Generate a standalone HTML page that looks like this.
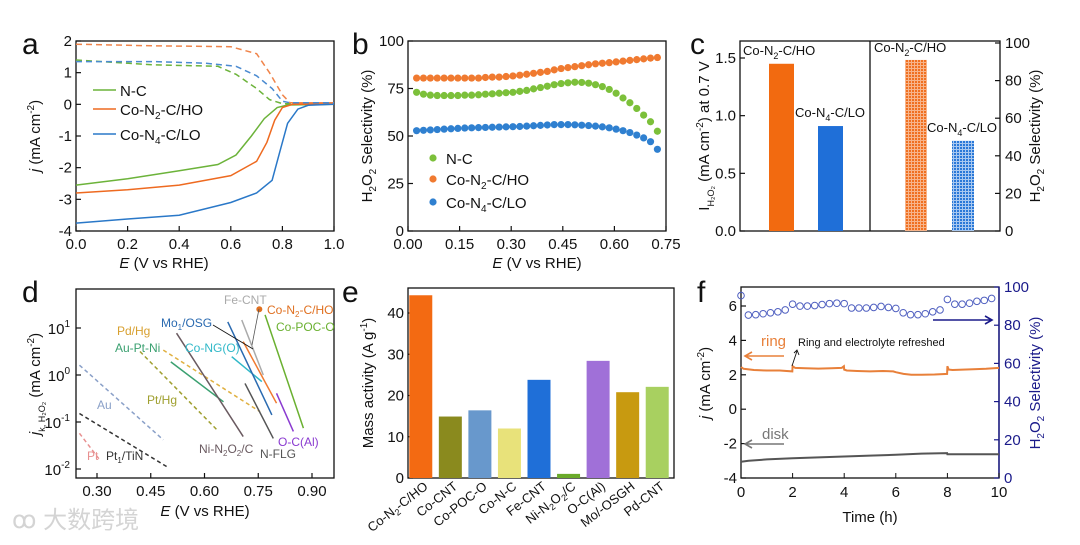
<!DOCTYPE html>
<html><head><meta charset="utf-8">
<style>
html,body{margin:0;padding:0;background:#fff;}
svg{display:block;font-family:"Liberation Sans",Arial,sans-serif;}
</style></head>
<body>
<svg id="fig" width="1080" height="545" viewBox="0 0 1080 545" xmlns="http://www.w3.org/2000/svg">
<defs>
<pattern id="hatchO" width="3" height="3" patternUnits="userSpaceOnUse"><rect width="3" height="3" fill="#f7b48a"/><rect width="2" height="2" fill="#f07020"/></pattern>
<pattern id="hatchB" width="3" height="3" patternUnits="userSpaceOnUse"><rect width="3" height="3" fill="#a8c8f0"/><rect width="2" height="2" fill="#2a78d8"/></pattern>
</defs>
<text x="12" y="528" font-size="24" fill="#d4d4d4" font-family="'Liberation Sans','Noto Sans CJK SC',sans-serif">ꝏ 大数跨境</text>
</svg>
<script>
// ---------- Panel a data ----------
const aE_NC=[0,0.2,0.4,0.55,0.62,0.68,0.73,0.78,0.82,1.0];
const aJ_NC=[-2.55,-2.35,-2.1,-1.9,-1.6,-1.0,-0.45,-0.1,-0.02,0];
const aE_N2=[0,0.2,0.4,0.6,0.7,0.74,0.77,0.8,0.84,1.0];
const aJ_N2=[-2.8,-2.7,-2.55,-2.25,-1.8,-1.2,-0.5,-0.1,0,0];
const aE_N4=[0,0.2,0.4,0.6,0.7,0.76,0.79,0.82,0.86,0.9,1.0];
const aJ_N4=[-3.75,-3.62,-3.5,-3.1,-2.8,-2.4,-1.5,-0.6,-0.15,-0.03,0];
const aE_rNC=[0,0.3,0.55,0.62,0.7,0.75,0.8,1.0];
const aJ_rNC=[1.4,1.25,1.2,0.95,0.5,0.15,0.02,0.02];
const aE_rN2=[0,0.3,0.6,0.7,0.75,0.8,0.83,1.0];
const aJ_rN2=[1.9,1.85,1.82,1.6,1.0,0.3,0.05,0.05];
const aE_rN4=[0,0.3,0.5,0.62,0.7,0.76,0.8,0.83,1.0];
const aJ_rN4=[1.35,1.35,1.3,1.2,0.9,0.5,0.1,0.05,0.05];
const aXT=[0,0.2,0.4,0.6,0.8,1.0];
const aXL=["0.0","0.2","0.4","0.6","0.8","1.0"];
const aYT=[-4,-3,-2,-1,0,1,2];
// ---------- Panel b data ----------
const bE=[0.025,0.045,0.065,0.085,0.105,0.125,0.145,0.165,0.185,0.205,0.225,0.245,0.265,0.285,0.305,0.325,0.345,0.365,0.385,0.405,0.425,0.445,0.465,0.485,0.505,0.525,0.545,0.565,0.585,0.605,0.625,0.645,0.665,0.685,0.705,0.725];
const bOrange=[80.5,80.5,80.5,80.5,80.5,80.5,80.5,80.5,80.5,80.5,80.8,81,81,81.3,81.6,82,82.5,83,83.5,84,84.8,85.5,86,86.5,87,87.5,88,88.3,88.6,89,89.4,89.8,90.2,90.6,91,91.3];
const bGreen=[73,72,71.5,71.3,71.3,71.3,71.3,71.5,71.5,71.7,72,72.2,72.5,72.8,73,73.5,74,74.8,75.5,76.2,77,77.6,78,78.3,78.2,77.8,77,76,74.5,72.5,70,67.5,64.5,61,57.5,52.5];
const bBlue=[52.8,53,53.2,53.4,53.6,53.8,54,54.2,54.3,54.4,54.5,54.6,54.7,54.8,54.9,55,55.2,55.4,55.6,55.8,56,56,56,55.9,55.7,55.5,55.2,54.8,54.3,53.6,52.8,51.8,50.5,49,47,43];
const bXT=[0,0.15,0.30,0.45,0.60,0.75];
const bXL=["0.00","0.15","0.30","0.45","0.60","0.75"];
const bYT=[0,25,50,75,100];
// ---------- Panel c data ----------
const cCurrent=[1.45,0.91];
const cSelect=[91,48];
const cLYT=[0,0.5,1.0,1.5];
const cLYL=["0.0","0.5","1.0","1.5"];
const cRYT=[0,20,40,60,80,100];
// ---------- Panel d data ----------
const dNames=["Pt","Pt1/TiN","Au","Pt/Hg","Pd/Hg","Au-Pt-Ni","Ni-N2O2/C","Co-NG(O)","Mo1/OSG","N-FLG","Fe-CNT","Co-N2-C/HO","O-C(Al)","Co-POC-O"];
const dE0=[0.251,0.251,0.251,0.420,0.485,0.506,0.522,0.676,0.665,0.713,0.704,0.708,0.801,0.769];
const dE1=[0.308,0.499,0.485,0.639,0.755,0.653,0.708,0.760,0.788,0.792,0.764,0.801,0.848,0.876];
const dLog0=[-1.24,-0.82,0.21,0.50,0.53,0.28,0.89,0.39,1.13,-0.18,1.17,0.71,-0.39,1.28];
const dLog1=[-1.81,-1.97,-1.38,-1.2,-0.78,-0.57,-1.31,-0.14,-0.85,-1.35,0.0,-0.6,-1.2,-1.13];
const dStarE=[0.753];
const dStarLog=[1.40];
const dXT=[0.30,0.45,0.60,0.75,0.90];
const dXL=["0.30","0.45","0.60","0.75","0.90"];
const dYT=[-2,-1,0,1];
// ---------- Panel e data ----------
const eCats=["Co-N2-C/HO","Co-CNT","Co-POC-O","Co-N-C","Fe-CNT","Ni-N2O2/C","O-C(Al)","Mo/-OSGH","Pd-CNT"];
const eVals=[44.3,14.9,16.4,12.0,23.8,1.0,28.4,20.8,22.1];
const eYT=[0,10,20,30,40];
// ---------- Panel f data ----------
const fRingT=[0,0.1,0.5,1,1.5,1.99,2.0,2.1,2.5,3,3.5,3.9,3.99,4.0,4.1,4.5,5,5.5,5.9,6.0,6.3,6.6,7,7.5,7.99,8.0,8.05,8.2,8.6,9,9.5,10];
const fRingJ=[2.45,2.35,2.28,2.25,2.25,2.2,2.5,2.4,2.38,2.36,2.38,2.4,2.5,2.3,2.25,2.22,2.2,2.22,2.2,2.15,2.05,2.0,2.0,2.02,2.05,2.5,2.3,2.28,2.3,2.32,2.35,2.4];
const fDiskT=[0,0.3,1,2,3,4,5,6,7,7.99,8.0,9,10];
const fDiskJ=[-3.05,-3.0,-2.92,-2.85,-2.8,-2.75,-2.7,-2.65,-2.58,-2.55,-2.62,-2.62,-2.62];
const fSelT=[0,0.286,0.571,0.857,1.143,1.429,1.714,2,2.286,2.571,2.857,3.143,3.429,3.714,4,4.286,4.571,4.857,5.143,5.429,5.714,6,6.286,6.571,6.857,7.143,7.429,7.714,8,8.286,8.571,8.857,9.143,9.429,9.714];
const fSel=[95.5,85.3,85.5,86,86.5,87,88,91,90,90,90.3,90.8,91.3,91.5,91.3,89,89,89,89.3,89.8,89.3,88.8,86.5,85.5,85.5,86,87,88,93.5,91,91,91.5,92.5,93,94];
const fXT=[0,2,4,6,8,10];
const fLYT=[-4,-2,0,2,4,6];
const fRYT=[0,20,40,60,80,100];

const NS="http://www.w3.org/2000/svg";
const svg=document.getElementById('fig');
function mk(tag,attrs,name,parent){
  const el=document.createElementNS(NS,tag);
  for(const k in attrs) el.setAttribute(k,attrs[k]);
  
  
  (parent||svg).appendChild(el);
  return el;
}
function txt(x,y,s,size,name,extra){
  const a=Object.assign({x:x,y:y,'font-size':size,fill:'#111'},extra||{});
  const t=mk('text',a,name);
  t.innerHTML=s;
  return t;
}
function lin(d0,d1,p0,p1){return v=>p0+(v-d0)/(d1-d0)*(p1-p0);}
function pathOf(xs,ys,sx,sy){return xs.map((v,i)=>(i?'L':'M')+sx(v).toFixed(1)+' '+sy(ys[i]).toFixed(1)).join(' ');}
function frame(x0,y0,x1,y1,name){mk('rect',{x:x0,y:y0,width:x1-x0,height:y1-y0,fill:'none',stroke:'#111','stroke-width':1.3},name);}
function xticks(ticks,labels,sx,y,name){
  ticks.forEach((t,i)=>{
    mk('line',{x1:sx(t),x2:sx(t),y1:y,y2:y-5,stroke:'#111','stroke-width':1.2},name+'-tick');
    txt(sx(t),y+18,labels[i],15,name+'-label',{'text-anchor':'middle'});
  });
}
function yticks(ticks,labels,sy,x,name,right,color){
  ticks.forEach((t,i)=>{
    mk('line',{x1:x,x2:right?x-5:x+5,y1:sy(t),y2:sy(t),stroke:color||'#111','stroke-width':1.2},name+'-tick');
    txt(right?x+5:x-4,sy(t)+5,labels[i],15,name+'-label',{'text-anchor':right?'start':'end',fill:color||'#111'});
  });
}
function panelLetter(x,y,s){txt(x,y,s,30,'panel-label-'+s);}

// ===== Panel a =====
(function(){
  const sx=lin(0,1,76,334), sy=lin(-4,2,231,41);
  panelLetter(22,54,'a');
  frame(76,41,334,231,'panel-a-frame');
  xticks(aXT,aXL,sx,231,'a-x');
  yticks(aYT,aYT.map(String),sy,76,'a-y');
  const series=[[aE_rNC,aJ_rNC,'#6cb33a','ring-nc'],[aE_rN2,aJ_rN2,'#f0844a','ring-con2'],[aE_rN4,aJ_rN4,'#4a8ad0','ring-con4']];
  series.forEach(s=>mk('path',{d:pathOf(s[0],s[1],sx,sy),fill:'none',stroke:s[2],'stroke-width':1.5,'stroke-dasharray':'6,4'},'curve-'+s[3]));
  const solid=[[aE_NC,aJ_NC,'#6cb33a','disk-nc'],[aE_N2,aJ_N2,'#ee6a20','disk-con2'],[aE_N4,aJ_N4,'#2a78c8','disk-con4']];
  solid.forEach(s=>mk('path',{d:pathOf(s[0],s[1],sx,sy),fill:'none',stroke:s[2],'stroke-width':1.5},'curve-'+s[3]));
  const leg=[['N-C','#6cb33a',91],['Co-N<tspan font-size="10" dy="4">2</tspan><tspan dy="-4">-C/HO</tspan>','#ee6a20',110],['Co-N<tspan font-size="10" dy="4">4</tspan><tspan dy="-4">-C/LO</tspan>','#2a78c8',135]];
  leg.forEach(l=>{mk('line',{x1:93,x2:116,y1:l[2]-1,y2:l[2]-1,stroke:l[1],'stroke-width':1.6},'legend-line');txt(120,l[2]+5,l[0],15,'legend-entry');});
  txt(164,268,'<tspan font-style="italic">E</tspan> (V vs RHE)',15,'a-x-title',{'text-anchor':'middle'});
  txt(0,0,'<tspan font-style="italic">j</tspan> (mA cm<tspan font-size="10" dy="-6">-2</tspan><tspan dy="6">)</tspan>',15,'a-y-title',{transform:'translate(40,136) rotate(-90)','text-anchor':'middle'});
})();

// ===== Panel b =====
(function(){
  const sx=lin(0,0.75,408,666), sy=lin(0,100,231,41);
  panelLetter(352,54,'b');
  frame(408,41,666,231,'panel-b-frame');
  xticks(bXT,bXL,sx,231,'b-x');
  yticks(bYT,bYT.map(String),sy,408,'b-y');
  const ser=[[bOrange,'#f07a30','orange'],[bGreen,'#7cc03a','green'],[bBlue,'#2f80d0','blue']];
  ser.forEach(s=>bE.forEach((e,i)=>mk('circle',{cx:sx(e),cy:sy(s[0][i]),r:3.6,fill:s[1]},'point-'+s[2])));
  const leg=[['N-C','#7cc03a',159],['Co-N<tspan font-size="10" dy="4">2</tspan><tspan dy="-4">-C/HO</tspan>','#f07a30',180],['Co-N<tspan font-size="10" dy="4">4</tspan><tspan dy="-4">-C/LO</tspan>','#2f80d0',203]];
  leg.forEach(l=>{mk('circle',{cx:433,cy:l[2]-1,r:3.6,fill:l[1]},'legend-marker');txt(446,l[2]+5,l[0],15,'legend-entry');});
  txt(537,268,'<tspan font-style="italic">E</tspan> (V vs RHE)',15,'b-x-title',{'text-anchor':'middle'});
  txt(0,0,'H<tspan font-size="10" dy="4">2</tspan><tspan dy="-4">O</tspan><tspan font-size="10" dy="4">2</tspan><tspan dy="-4"> Selectivity (%)</tspan>',15,'b-y-title',{transform:'translate(372,136) rotate(-90)','text-anchor':'middle'});
})();

// ===== Panel c =====
(function(){
  const syL=lin(0,1.5,231,58), syR=lin(0,100,231,43);
  panelLetter(690,54,'c');
  frame(740,41,1000,231,'panel-c-frame');
  mk('line',{x1:870,x2:870,y1:41,y2:231,stroke:'#111','stroke-width':1.3},'panel-divider');
  yticks(cLYT,cLYL,syL,740,'c-left-y');
  yticks(cRYT,cRYT.map(String),syR,1000,'c-right-y',true);
  const lx=[769,818], rx=[905,952];
  const lf=['#f26a10','#1f6fd8'], rf=['url(#hatchO)','url(#hatchB)'];
  cCurrent.forEach((v,i)=>mk('rect',{x:lx[i],y:syL(v),width:25,height:231-syL(v),fill:lf[i]},'bar-current'));
  cSelect.forEach((v,i)=>mk('rect',{x:rx[i],y:syR(v),width:22,height:231-syR(v),fill:rf[i]},'bar-selectivity'));
  const sub2='Co-N<tspan font-size="9" dy="4">2</tspan><tspan dy="-4">-C/HO</tspan>';
  const sub4='Co-N<tspan font-size="9" dy="4">4</tspan><tspan dy="-4">-C/LO</tspan>';
  txt(743,55,sub2,13,'bar-label');
  txt(795,117,sub4,13,'bar-label');
  txt(874,52,sub2,13,'bar-label');
  txt(927,132,sub4,13,'bar-label');
  txt(0,0,'I<tspan font-size="9" dy="5">H₂O₂</tspan><tspan dy="-5"> (mA cm</tspan><tspan font-size="10" dy="-6">-2</tspan><tspan dy="6">) at 0.7 V</tspan>',15,'c-left-y-title',{transform:'translate(709,136) rotate(-90)','text-anchor':'middle'});
  txt(0,0,'H<tspan font-size="10" dy="4">2</tspan><tspan dy="-4">O</tspan><tspan font-size="10" dy="4">2</tspan><tspan dy="-4"> Selectivity (%)</tspan>',15,'c-right-y-title',{transform:'translate(1040,136) rotate(-90)','text-anchor':'middle'});
})();

// ===== Panel d =====
(function(){
  const sx=lin(0.30,0.90,97,312), sy=lin(1,-2,328,469);
  panelLetter(22,302,'d');
  frame(76,289,334,478,'panel-d-frame');
  xticks(dXT,dXL,sx,478,'d-x');
  dYT.forEach(t=>{
    mk('line',{x1:76,x2:81,y1:sy(t),y2:sy(t),stroke:'#111','stroke-width':1.2},'d-y-tick');
    txt(70,sy(t)+6,'10<tspan font-size="10" dy="-7">'+t+'</tspan>',15,'d-y-label',{'text-anchor':'end'});
  });
  const cols=['#e89090','#333','#8aa0c8','#a0a030','#e0b040','#3aa070','#6a5a60','#30b8c8','#2a6ab0','#555','#aaa','#f07a30','#8a3ad0','#6ab030'];
  const dashed=[1,1,1,1,1,0,0,0,0,0,0,0,0,0];
  dNames.forEach((n,i)=>{
    const a={x1:sx(dE0[i]),y1:sy(dLog0[i]),x2:sx(dE1[i]),y2:sy(dLog1[i]),stroke:cols[i],'stroke-width':1.5};
    if(dashed[i]) a['stroke-dasharray']='4,3';
    mk('line',a,'trend-line');
  });
  dStarE.forEach((e,i)=>mk('circle',{cx:sx(e),cy:sy(dStarLog[i]),r:3,fill:'#e07020'},'highlight-marker'));
  mk('line',{x1:253,y1:349,x2:213,y2:325,stroke:'#111','stroke-width':0.8},'annotation-arrow');
  mk('line',{x1:252,y1:345,x2:259,y2:309,stroke:'#555','stroke-width':0.8},'annotation-arrow');
  const labs=[[87,460,'Pt','#e89090'],[106,460,'Pt<tspan font-size="8" dy="3">1</tspan><tspan dy="-3">/TiN</tspan>','#333'],[97,409,'Au','#8aa0c8'],[147,404,'Pt/Hg','#a0a030'],[117,335,'Pd/Hg','#d8a030'],[115,352,'Au-Pt-Ni','#3aa070'],[161,327,'Mo<tspan font-size="8" dy="3">1</tspan><tspan dy="-3">/OSG</tspan>','#2a6ab0'],[185,352,'Co-NG(O)','#30b8c8'],[224,304,'Fe-CNT','#aaa'],[267,314,'Co-N<tspan font-size="8" dy="3">2</tspan><tspan dy="-3">-C/HO</tspan>','#e07020'],[276,331,'Co-POC-O','#6ab030'],[199,453,'Ni-N<tspan font-size="8" dy="3">2</tspan><tspan dy="-3">O</tspan><tspan font-size="8" dy="3">2</tspan><tspan dy="-3">/C</tspan>','#6a5a60'],[260,458,'N-FLG','#555'],[278,446,'O-C(Al)','#8a3ad0']];
  labs.forEach(l=>txt(l[0],l[1],l[2],12,'series-label',{fill:l[3]}));
  txt(205,516,'<tspan font-style="italic">E</tspan> (V vs RHE)',15,'d-x-title',{'text-anchor':'middle'});
  txt(0,0,'<tspan font-style="italic">j</tspan><tspan font-size="9" dy="5">k, H₂O₂</tspan><tspan dy="-5"> (mA cm</tspan><tspan font-size="10" dy="-6">-2</tspan><tspan dy="6">)</tspan>',15,'d-y-title',{transform:'translate(40,384) rotate(-90)','text-anchor':'middle'});
})();

// ===== Panel e =====
(function(){
  const x0=408,x1=674, sy=lin(0,40,478,313);
  const step=(x1-x0)/eCats.length;
  panelLetter(342,302,'e');
  frame(x0,288,x1,478,'panel-e-frame');
  yticks(eYT,eYT.map(String),sy,x0,'e-y');
  const cols=['#f36a12','#8a8a1e','#6898cc','#e8e27a','#1f6fd8','#6aaa2a','#a070d8','#c89a10','#a8d060'];
  eVals.forEach((v,i)=>{
    const cx=x0+step*(i+0.5)-2;
    mk('rect',{x:cx-11.5,y:sy(v),width:23,height:478-sy(v),fill:cols[i]},'bar-'+i);
    txt(0,0,eCats[i].replace(/N2O2/,'N<tspan font-size="9" dy="3">2</tspan><tspan dy="-3">O</tspan><tspan font-size="9" dy="3">2</tspan><tspan dy="-3">').replace(/N2-C/,'N<tspan font-size="9" dy="3">2</tspan><tspan dy="-3">-C</tspan>'),13,'e-x-label',{'text-anchor':'end',transform:'translate('+(cx+8)+',488) rotate(-38)'});
  });
  txt(0,0,'Mass activity (A g<tspan font-size="10" dy="-6">-1</tspan><tspan dy="6">)</tspan>',15,'e-y-title',{transform:'translate(373,383) rotate(-90)','text-anchor':'middle'});
})();

// ===== Panel f =====
(function(){
  const sx=lin(0,10,741,999), sy=lin(-4,6,478,306), syR=lin(0,100,478,287);
  const navy='#1a1a8a';
  panelLetter(697,302,'f');
  frame(741,287,999,478,'panel-f-frame');
  mk('line',{x1:999,x2:999,y1:287,y2:478,stroke:navy,'stroke-width':1.4},'right-axis-line');
  fXT.forEach(t=>{mk('line',{x1:sx(t),x2:sx(t),y1:478,y2:473,stroke:'#111'},'f-x-tick');txt(sx(t),497,String(t),15,'f-x-label',{'text-anchor':'middle'});});
  yticks(fLYT,fLYT.map(String),sy,741,'f-left-y');
  yticks(fRYT,fRYT.map(String),syR,999,'f-right-y',true,navy);
  mk('path',{d:pathOf(fRingT,fRingJ,sx,sy),fill:'none',stroke:'#e8803a','stroke-width':2},'ring-current');
  mk('path',{d:pathOf(fDiskT,fDiskJ,sx,sy),fill:'none',stroke:'#555','stroke-width':2},'disk-current');
  fSelT.forEach((t,i)=>mk('circle',{cx:sx(t),cy:syR(fSel[i]),r:3.3,fill:'none',stroke:'#5060c0','stroke-width':1},'selectivity-point'));
  mk('path',{d:'M784 356 L746 356 M752 352 L745 356 L752 360',fill:'none',stroke:'#e8803a','stroke-width':1.6},'ring-arrow');
  txt(761,346,'ring',15,'ring-label',{fill:'#e8803a'});
  mk('path',{d:'M784 444 L746 444 M752 440 L745 444 L752 448',fill:'none',stroke:'#777','stroke-width':1.6},'disk-arrow');
  txt(762,439,'disk',15,'disk-label',{fill:'#777'});
  mk('path',{d:'M933 320 L991 320 M985 316 L992 320 L985 324',fill:'none',stroke:navy,'stroke-width':1.6},'selectivity-arrow');
  txt(798,346,'Ring and electrolyte refreshed',11,'annotation-text');
  mk('path',{d:'M797 351 L792 366 M794 353 L797 350 L799 355',fill:'none',stroke:'#111','stroke-width':0.9},'annotation-arrow');
  txt(870,522,'Time (h)',15,'f-x-title',{'text-anchor':'middle'});
  txt(0,0,'<tspan font-style="italic">j</tspan> (mA cm<tspan font-size="10" dy="-6">-2</tspan><tspan dy="6">)</tspan>',15,'f-left-y-title',{transform:'translate(710,383) rotate(-90)','text-anchor':'middle'});
  txt(0,0,'H<tspan font-size="10" dy="4">2</tspan><tspan dy="-4">O</tspan><tspan font-size="10" dy="4">2</tspan><tspan dy="-4"> Selectivity (%)</tspan>',15,'f-right-y-title',{transform:'translate(1040,383) rotate(-90)','text-anchor':'middle',fill:navy});
})();
</script>
</body></html>
